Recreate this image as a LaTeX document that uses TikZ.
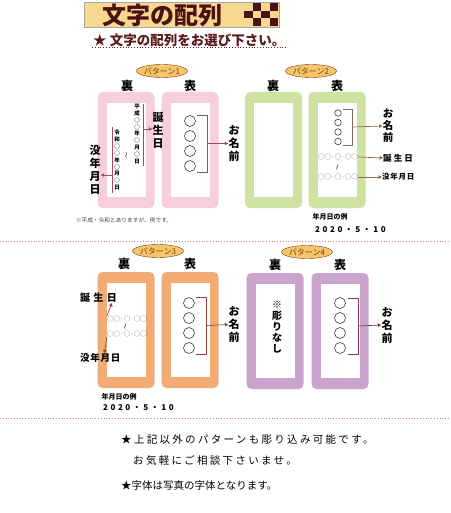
\documentclass[tikz,border=0pt]{standalone}
\usepackage{fontspec}
\newfontfamily\jp{Noto Sans CJK JP}
\usetikzlibrary{positioning,calc,arrows.meta,shapes.geometric}

\definecolor{titlebg}{HTML}{F8D890}
\definecolor{titlefg}{HTML}{4A1212}
\definecolor{subfg}{HTML}{5C1A1A}
\definecolor{ovalbg}{HTML}{F6C66A}
\definecolor{ovalfg}{HTML}{7A3A10}
\definecolor{pinkcard}{HTML}{F5CFDD}
\definecolor{greencard}{HTML}{CFE2A2}
\definecolor{orangecard}{HTML}{F1AC76}
\definecolor{purplecard}{HTML}{C9A3CB}
\definecolor{pinkline}{HTML}{A84760}
\definecolor{brownline}{HTML}{8A6A52}
\definecolor{redline}{HTML}{9E3F3F}
\definecolor{plumline}{HTML}{8C3650}
\definecolor{sepline}{HTML}{C08888}

\begin{document}
\begin{tikzpicture}[x=1pt,y=-1pt,
    card/.style={fill=#1,rounded corners=5pt,minimum width=57pt,minimum height=116pt,inner sep=0pt},
    window/.style={fill=white,minimum width=39pt,minimum height=94pt,inner sep=0pt},
    tag/.style={ellipse,draw=ovalfg,fill=ovalbg,text=ovalfg,font=\jp\fontsize{8}{8}\selectfont,minimum width=46pt,minimum height=13pt,inner sep=0pt},
    side/.style={font=\jp\bfseries\fontsize{12}{12}\selectfont,inner sep=0pt},
    ring/.style={circle,draw=black!75,line width=0.6pt,minimum size=#1,inner sep=0pt},
    vlabel/.style={font=\jp\bfseries\fontsize{11}{13}\selectfont,align=center,inner sep=0pt},
    column/.style={font=\jp\bfseries\fontsize{5.5}{6.9}\selectfont,align=center,inner sep=0pt},
    daterow/.style={font=\jp\fontsize{6.5}{6.5}\selectfont,text=black!60,inner sep=0pt},
    wave/.style={font=\jp\fontsize{6}{6}\selectfont,rotate=90,inner sep=0pt},
    arr/.style={draw=#1,line width=0.7pt,-{Triangle[length=3.5pt,width=3.5pt]}},
    bracket/.style={draw=#1,line width=0.9pt},
    example/.style={font=\jp\bfseries\fontsize{7}{7}\selectfont,inner sep=0pt},
    sep/.style={draw=sepline,dotted,line width=0.8pt},
    footnote/.style={font=\jp\fontsize{10.5}{12}\selectfont,anchor=west,inner sep=0pt}
  ]

  \useasboundingbox (0,0) rectangle (450,513);

  % title bar
  \node [draw=black!35,fill=titlebg,minimum width=195pt,minimum height=25pt,inner sep=0pt,anchor=north west] at (84,2) (titlebar) {};
  \node [font=\jp\bfseries\fontsize{24}{24}\selectfont,text=titlefg] at (162,15) (title) {文字の配列};
  \foreach \i in {0,...,3}{
    \foreach \j in {0,...,2}{
      \pgfmathparse{int(mod(\i+\j,2))}
      \ifnum\pgfmathresult=1
      \fill [titlefg] (244+8.5*\i,3+7.7*\j) rectangle ++(8.5,7.7);
      \fi
    }
  }
  \node [font=\jp\bfseries\fontsize{13.5}{13.5}\selectfont,text=subfg,anchor=west,inner sep=1pt] at (92,40) (subtitle) {★ 文字の配列をお選び下さい。};
  \draw [subfg,dotted,line width=0.8pt] (subtitle.south west) -- (subtitle.south east);

  % pattern 1
  \node [tag] at (162,71) (tag1) {パターン1};
  \node [side] at (127,86) (ura1) {裏};
  \node [side] at (190,86) (omote1) {表};
  \node [card=pinkcard] at (126,150) (card1b) {};
  \node [window] at (card1b) (win1b) {};
  \node [card=pinkcard] at (190,150) (card1f) {};
  \node [window] at (card1f) (win1f) {};

  \node [column] at (137,134) (heisei) {平\\成\\○\\○\\年\\○\\月\\○\\日};
  \node [column] at (117,160) (reiwa) {令\\和\\○\\○\\年\\○\\月\\○\\日};
  \node [wave] at (127,155) (wave1) {〜};
  \coordinate (hline1) at (143,104);
  \coordinate (hline2) at (143,166);
  \coordinate (harrow) at (143,129);
  \draw [pinkline,line width=0.6pt] (hline1) -- (hline2);
  \node [vlabel] at (158,130) (birth1) {誕\\生\\日};
  \draw [arr=pinkline] (harrow) -- (birth1.west |- harrow);
  \coordinate (rline1) at (112,127);
  \coordinate (rline2) at (112,193);
  \coordinate (rarrow) at (112,175);
  \draw [pinkline,line width=0.6pt] (rline1) -- (rline2);
  \node [vlabel] at (95,170) (death1) {没\\年\\月\\日};
  \draw [arr=pinkline] (rarrow) -- (rarrow -| death1.east);

  \foreach \i in {1,...,4}
    \node [ring=11pt] at (190,{106+15*\i}) (c1\i) {};
  \draw [bracket=pinkline] (197,115) -- (207,115) -- (207,172) -- (197,172);
  \coordinate (bmid1) at (207,143.5);
  \node [vlabel] at (234,143.5) (name1) {お\\名\\前};
  \draw [arr=pinkline] (bmid1) -- (name1.west);
  \node [font=\jp\fontsize{5.7}{6}\selectfont,text=black!75,inner sep=0pt] at (124,220) (note1) {※平成・令和とありますが、例です。};

  % pattern 2
  \node [tag] at (311,71) (tag2) {パターン2};
  \node [side] at (273,86) (ura2) {裏};
  \node [side] at (337,86) (omote2) {表};
  \node [card=greencard] at (273.5,150) (card2b) {};
  \node [window] at (card2b) (win2b) {};
  \node [card=greencard] at (337,150) (card2f) {};
  \node [window] at (card2f) (win2f) {};

  \foreach \i in {1,...,4}
    \node [ring=6.5pt] at (338,{103.5+9.5*\i}) (c2\i) {};
  \draw [bracket=brownline] (343,109) -- (352,109) -- (352,145) -- (343,145);
  \coordinate (bmid2) at (352,127);
  \node [vlabel,font=\jp\bfseries\fontsize{10.5}{12}\selectfont] at (388,126) (name2) {お\\名\\前};
  \draw [arr=brownline] (bmid2) -- (name2.west);
  \node [daterow] at (338,157) (birthd2) {○○·○·○○};
  \node [wave] at (338,167) (wave2) {〜};
  \node [daterow] at (338,177) (deathd2) {○○·○·○○};
  \node [font=\jp\bfseries\fontsize{8.5}{8.5}\selectfont,inner sep=0pt,anchor=west] at (383,158) (birth2) {\addfontfeatures{LetterSpace=25}誕生日};
  \node [font=\jp\bfseries\fontsize{7.5}{7.5}\selectfont,inner sep=0pt,anchor=west] at (382,177) (death2) {\addfontfeatures{LetterSpace=10}没年月日};
  \draw [arr=brownline] (birthd2.east) -- (birth2.west);
  \draw [arr=brownline] (deathd2.east) -- (death2.west);
  \node [example] at (330,217) (ex2) {年月日の例};
  \node [example,font=\jp\bfseries\fontsize{8}{8}\selectfont,anchor=west] at (315,230) (date2) {\addfontfeatures{LetterSpace=32}2020・5・10};

  \draw [sep] (0,241) -- (450,241);

  % pattern 3
  \node [tag] at (158,251) (tag3) {パターン3};
  \node [side] at (124,264) (ura3) {裏};
  \node [side] at (190,264) (omote3) {表};
  \node [card=orangecard] at (126,330) (card3b) {};
  \node [window] at (card3b) (win3b) {};
  \node [card=orangecard] at (190,330) (card3f) {};
  \node [window] at (card3f) (win3f) {};

  \node [daterow] at (127,319) (birthd3) {○○·○·○○};
  \node [wave] at (126,326.5) (wave3) {〜};
  \node [daterow] at (127,334) (deathd3) {○○·○·○○};
  \node [font=\jp\bfseries\fontsize{10}{10}\selectfont,inner sep=0pt,anchor=west] at (80,298) (birth3) {\addfontfeatures{LetterSpace=33}誕生日};
  \node [font=\jp\bfseries\fontsize{9.5}{9.5}\selectfont,inner sep=0pt,anchor=west] at (80,358) (death3) {\addfontfeatures{LetterSpace=8}没年月日};
  \draw [arr=redline] (birthd3.north west) -- ([xshift=-5pt]birth3.south east);
  \draw [arr=redline] (deathd3.south west) -- ([xshift=4pt]death3.north);

  \foreach \i in {1,...,4}
    \node [ring=11pt] at (189,{288+15*\i}) (c3\i) {};
  \draw [bracket=redline] (196,297) -- (206,297) -- (206,354) -- (196,354);
  \coordinate (bmid3) at (206,325.5);
  \node [vlabel] at (234,324.5) (name3) {お\\名\\前};
  \draw [arr=redline] (bmid3) -- (name3.west);
  \node [example] at (119,397) (ex3) {年月日の例};
  \node [example,font=\jp\bfseries\fontsize{8}{8}\selectfont,anchor=west] at (103,408) (date3) {\addfontfeatures{LetterSpace=32}2020・5・10};

  % pattern 4
  \node [tag] at (307,252) (tag4) {パターン4};
  \node [side] at (275,265) (ura4) {裏};
  \node [side] at (340,265) (omote4) {表};
  \node [card=purplecard] at (275,331) (card4b) {};
  \node [window] at (card4b) (win4b) {};
  \node [card=purplecard] at (340,331) (card4f) {};
  \node [window] at (card4f) (win4f) {};

  \node [vlabel,font=\jp\bfseries\fontsize{10}{11}\selectfont] at (277,327) (nocarve) {※\\彫\\り\\な\\し};
  \foreach \i in {1,...,4}
    \node [ring=11pt] at (340,{288+15*\i}) (c4\i) {};
  \draw [bracket=plumline] (348,298) -- (358,298) -- (358,354) -- (348,354);
  \coordinate (bmid4) at (358,326);
  \node [vlabel] at (387,325) (name4) {お\\名\\前};
  \draw [arr=plumline] (bmid4) -- (name4.west);

  \draw [sep] (0,418) -- (450,418);

  % notes
  \node [footnote] at (121,440) (foot1) {\addfontfeatures{LetterSpace=22}★上記以外のパターンも彫り込み可能です。};
  \node [footnote] at (133,461) (foot2) {\addfontfeatures{LetterSpace=22}お気軽にご相談下さいませ。};
  \node [footnote] at (121,486) (foot3) {★字体は写真の字体となります。};

\end{tikzpicture}
\end{document}
